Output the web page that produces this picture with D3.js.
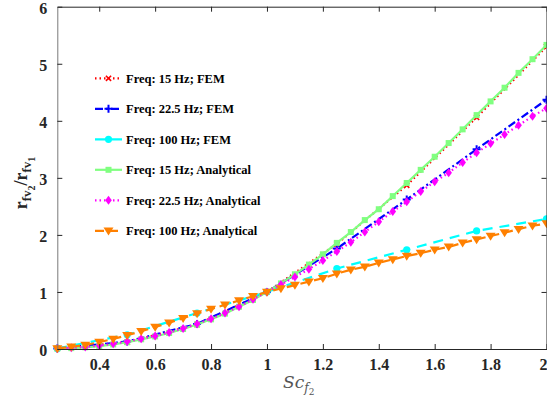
<!DOCTYPE html>
<html>
<head>
<meta charset="utf-8">
<script src="https://cdn.jsdelivr.net/npm/d3@7"></script>
<style>
  body { margin: 0; background: #fff; }
  svg { display: block; }
</style>
</head>
<body>
<div id="app"></div>
<script>
// 数据
const xFem = [0.25, 0.5, 0.75, 1, 1.25, 1.5, 1.75, 2];
const fem15 = [0.01, 0.12, 0.43, 1, 1.84, 2.87, 4.06, 5.30];
const fem22 = [0.01, 0.13, 0.44, 1, 1.76, 2.62, 3.50, 4.37];
const fem100 = [0.01, 0.25, 0.63, 1, 1.41, 1.74, 2.07, 2.28];

const xAna = [0.25, 0.3, 0.35, 0.4, 0.45, 0.5, 0.55, 0.6, 0.65, 0.7, 0.75, 0.8,
  0.85, 0.9, 0.95, 1, 1.05, 1.1, 1.15, 1.2, 1.25, 1.3, 1.35, 1.4, 1.45, 1.5,
  1.55, 1.6, 1.65, 1.7, 1.75, 1.8, 1.85, 1.9, 1.95, 2];
const ana15 = [0.01, 0.015, 0.03, 0.05, 0.08, 0.12, 0.17, 0.22, 0.28, 0.35, 0.43, 0.52,
  0.62, 0.74, 0.86, 1, 1.15, 1.31, 1.48, 1.66, 1.86, 2.05, 2.26, 2.45, 2.68, 2.91,
  3.14, 3.37, 3.61, 3.85, 4.10, 4.34, 4.58, 4.84, 5.08, 5.33];
const ana22 = [0.01, 0.02, 0.035, 0.06, 0.09, 0.13, 0.18, 0.23, 0.29, 0.36, 0.44, 0.53,
  0.63, 0.74, 0.87, 1, 1.13, 1.26, 1.40, 1.55, 1.71, 1.87, 2.05, 2.23, 2.41, 2.58,
  2.76, 2.93, 3.09, 3.27, 3.44, 3.60, 3.76, 3.92, 4.08, 4.22];
const ana100 = [0.01, 0.04, 0.07, 0.12, 0.175, 0.24, 0.31, 0.385, 0.46, 0.54, 0.62, 0.70,
  0.775, 0.85, 0.925, 1, 1.06, 1.12, 1.18, 1.24, 1.32, 1.39, 1.44, 1.51, 1.57, 1.63,
  1.68, 1.74, 1.79, 1.86, 1.92, 1.98, 2.04, 2.10, 2.16, 2.20];

const legendLabels = ['Freq: 15 Hz; FEM', 'Freq: 22.5 Hz; FEM', 'Freq: 100 Hz; FEM',
  'Freq: 15 Hz; Analytical', 'Freq: 22.5 Hz; Analytical', 'Freq: 100 Hz; Analytical'];
const xTicks = [0.4, 0.6, 0.8, 1, 1.2, 1.4, 1.6, 1.8, 2];
const yTicks = [0, 1, 2, 3, 4, 5, 6];

const width = 547, height = 400;
const padding = { left: 57.3, right: 0.5, top: 6.7, bottom: 51 };

const svg = d3.select('#app').append('svg')
  .attr('width', width)
  .attr('height', height);

const xScale = d3.scaleLinear().domain([0.25, 2]).range([padding.left, width - padding.right]);
const yScale = d3.scaleLinear().domain([0, 6]).range([height - padding.bottom, padding.top]);

// 标记形状
const markers = {
  x: (g, c) => g.append('path').attr('d', 'M-2.6,-2.6L2.6,2.6M-2.6,2.6L2.6,-2.6')
    .attr('stroke', c).attr('stroke-width', 1.6).attr('fill', 'none'),
  plus: (g, c) => g.append('path').attr('d', 'M-4,0L4,0M0,-4L0,4')
    .attr('stroke', c).attr('stroke-width', 2).attr('fill', 'none'),
  circle: (g, c) => g.append('circle').attr('r', 3.6).attr('fill', c),
  square: (g, c) => g.append('rect').attr('x', -3).attr('y', -3).attr('width', 6).attr('height', 6).attr('fill', c),
  diamond: (g, c) => g.append('path').attr('d', 'M0,-4.5L3.3,0L0,4.5L-3.3,0Z').attr('fill', c),
  tri: (g, c) => g.append('path').attr('d', 'M-5,-3.3L5,-3.3L0,4.7Z').attr('fill', c)
};

const series = [
  { x: xFem, y: fem15, color: '#ff0000', dash: '1.5,3', marker: 'x' },
  { x: xFem, y: fem22, color: '#0000ff', dash: '8,3,2,3', marker: 'plus' },
  { x: xFem, y: fem100, color: '#00ffff', dash: '10,7', marker: 'circle' },
  { x: xAna, y: ana15, color: '#80ff80', dash: null, marker: 'square' },
  { x: xAna, y: ana22, color: '#ff00ff', dash: '1.5,3', marker: 'diamond' },
  { x: xAna, y: ana100, color: '#ff8000', dash: '9,5', marker: 'tri' }
];

const plot = svg.append('g');
const line = d3.line().x(d => xScale(d[0])).y(d => yScale(d[1]));

series.forEach(s => {
  const pts = s.x.map((v, i) => [v, s.y[i]]);
  plot.append('path')
    .attr('d', line(pts))
    .attr('fill', 'none')
    .attr('stroke', s.color)
    .attr('stroke-width', 2.2)
    .attr('stroke-dasharray', s.dash);
  pts.forEach(p => {
    const g = plot.append('g').attr('transform', `translate(${xScale(p[0])},${yScale(p[1])})`);
    markers[s.marker](g, s.color);
  });
});

// 坐标轴
const axisColor = '#262626';
const tickFont = 'Liberation Serif, Times New Roman, serif';

const xAxis = svg.append('g')
  .attr('transform', `translate(0,${yScale(0)})`)
  .call(d3.axisBottom(xScale).tickValues(xTicks).tickSizeInner(-5).tickSizeOuter(0).tickPadding(10).tickFormat(d3.format('')));
const xTop = svg.append('g')
  .attr('transform', `translate(0,${yScale(6)})`)
  .call(d3.axisTop(xScale).tickValues(xTicks).tickSizeInner(-5).tickSizeOuter(0).tickFormat(''));
const yAxis = svg.append('g')
  .attr('transform', `translate(${xScale(0.25)},0)`)
  .call(d3.axisLeft(yScale).tickValues(yTicks).tickSizeInner(-5).tickSizeOuter(0).tickPadding(10).tickFormat(d3.format('d')));
const yRight = svg.append('g')
  .attr('transform', `translate(${xScale(2)},0)`)
  .call(d3.axisRight(yScale).tickValues(yTicks).tickSizeInner(-5).tickSizeOuter(0).tickFormat(''));

[xAxis, xTop, yAxis, yRight].forEach(a => {
  a.select('.domain').attr('stroke', axisColor).attr('stroke-width', 1);
  a.selectAll('.tick line').attr('stroke', axisColor);
  a.selectAll('.tick text')
    .attr('fill', axisColor)
    .attr('font-family', tickFont)
    .attr('font-weight', 'bold')
    .attr('font-size', 16);
});
yAxis.select('.domain').attr('stroke', '#7a7a7a');
yAxis.selectAll('.tick text').attr('dy', '0.42em');
xAxis.selectAll('.tick text').attr('dy', '0.71em');
// 最右边的刻度标签贴着画布边缘
xAxis.selectAll('.tick text').filter(d => d === 2)
  .attr('text-anchor', 'end').attr('x', width - xScale(2));

// 图例
const legend = svg.append('g');
series.forEach((s, i) => {
  const y = 78.3 + i * 30.5;
  legend.append('line')
    .attr('x1', 95).attr('x2', 122).attr('y1', y).attr('y2', y)
    .attr('stroke', s.color).attr('stroke-width', 2.2)
    .attr('stroke-dasharray', s.dash);
  const g = legend.append('g').attr('transform', `translate(108.5,${y})`);
  markers[s.marker](g, s.color);
  legend.append('text')
    .attr('x', 126).attr('y', y)
    .attr('dy', '0.35em')
    .attr('font-family', tickFont)
    .attr('font-weight', 'bold')
    .attr('font-size', 12.5)
    .attr('fill', '#000')
    .text(legendLabels[i]);
});

// y 轴标题
const yLabel = svg.append('text')
  .attr('transform', 'translate(27,183) rotate(-90)')
  .attr('text-anchor', 'middle')
  .attr('font-family', tickFont)
  .attr('font-weight', 'bold')
  .attr('font-size', 18)
  .attr('fill', axisColor);
yLabel.append('tspan').text('r');
yLabel.append('tspan').attr('dy', 4).attr('font-size', 13).text('fv');
yLabel.append('tspan').attr('dy', 4).attr('font-size', 10).text('2');
yLabel.append('tspan').attr('dy', -8).text('/r');
yLabel.append('tspan').attr('dy', 4).attr('font-size', 13).text('fv');
yLabel.append('tspan').attr('dy', 4).attr('font-size', 10).text('1');

// x 轴标题
const xLabel = svg.append('text')
  .attr('x', 283).attr('y', 388)
  .attr('font-family', 'DejaVu Serif, Liberation Serif, serif')
  .attr('font-style', 'italic')
  .attr('font-size', 17)
  .attr('fill', '#555');
xLabel.append('tspan').text('Sc');
xLabel.append('tspan').attr('dy', 4).attr('font-size', 12).text('f');
xLabel.append('tspan').attr('dy', 3).attr('font-size', 9).attr('font-style', 'normal').text('2');
</script>
</body>
</html>
